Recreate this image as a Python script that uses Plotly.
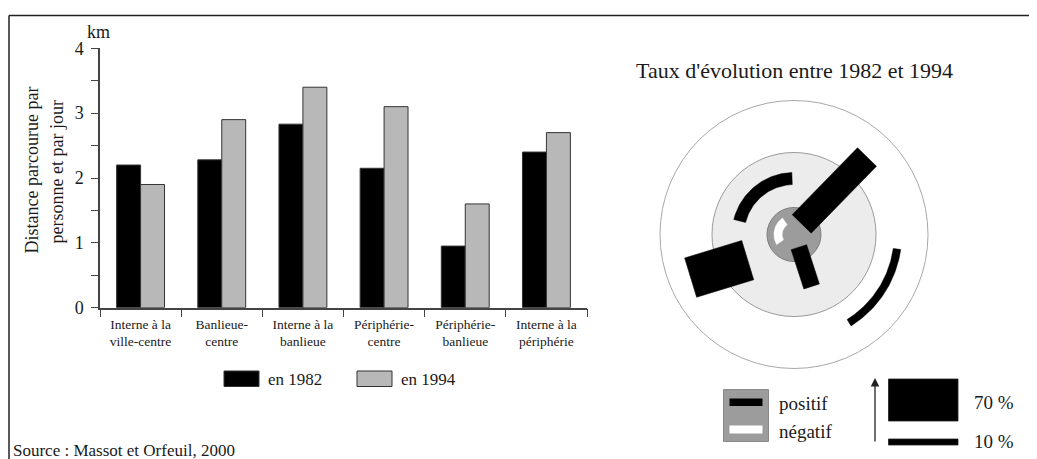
import numpy as np
import plotly.graph_objects as go

# ---------------- data ----------------
categories = ["Interne à la<br>ville-centre", "Banlieue-<br>centre", "Interne à la<br>banlieue",
              "Périphérie-<br>centre", "Périphérie-<br>banlieue", "Interne à la<br>périphérie"]
dist_1982 = [2.2, 2.28, 2.83, 2.15, 0.95, 2.4]
dist_1994 = [1.9, 2.9, 3.4, 3.1, 1.6, 2.7]
series_names = ["en 1982", "en 1994"]
y_ticks = [0, 1, 2, 3, 4]
scale_refs = [70, 10]          # % shown in the width legend
scale_labels = ["70 %", "10 %"]
sign_labels = ["positif", "négatif"]
diagram_title = "Taux d'évolution entre 1982 et 1994"
source_text = "Source : Massot et Orfeuil, 2000"

# evolution rates (%) derived from the data
rates = [(b / a - 1) * 100 for a, b in zip(dist_1982, dist_1994)]

# ---------------- layout constants ----------------
VW, VH = 1037, 459          # browser window
OFF = 8                     # page body margin
W, H = VW - OFF, VH - OFF   # figure size
FONT = "Liberation Serif, Times New Roman, serif"
TXT = "#1a1a1a"
AX = "#444444"

# positions below are given in window pixels; convert to figure paper fractions
def px(x):
    return (x - OFF) / W

def py(y):
    return 1 - (y - OFF) / H

# diagram geometry (pixels, y up, origin at centre of the rings)
CX, CY = 794, 234.5
R_OUT, R_BAN, R_CTR = 134, 82, 27
PX_PER_PCT = 0.6
# per flow: ("arc", radius, theta1, theta2) or ("bar", start_r, start_theta, direction, length)
flow_geom = [
    ("arc", 16, 125, 210),
    ("bar", 13.6, -69, -72, 41.3),
    ("arc", 56, 92, 166),
    ("bar", 13.1, 54, 45.7, 93.5),
    ("bar", 52.9, 209, 197, 59.7),
    ("arc", 104, -58, -8),
]

fig = go.Figure()

fig.add_bar(x=categories, y=dist_1982, name=series_names[0], showlegend=False,
            marker=dict(color="#000000", line=dict(color="#333333", width=1)),
            xaxis="x", yaxis="y")
fig.add_bar(x=categories, y=dist_1994, name=series_names[1], showlegend=False,
            marker=dict(color="#b8b8b8", line=dict(color="#333333", width=1)),
            xaxis="x", yaxis="y")

# ---- diagram marks built from the rates ----
for rate, g in zip(rates, flow_geom):
    w = abs(rate) * PX_PER_PCT
    color = "#000000" if rate >= 0 else "#ffffff"
    if g[0] == "bar":
        _, r0, t0, d, L = g
        sx, sy = r0 * np.cos(np.radians(t0)), r0 * np.sin(np.radians(t0))
        ux, uy = np.cos(np.radians(d)), np.sin(np.radians(d))
        nx, ny = -uy, ux
        xs = [sx + nx * w / 2, sx + ux * L + nx * w / 2, sx + ux * L - nx * w / 2, sx - nx * w / 2]
        ys = [sy + ny * w / 2, sy + uy * L + ny * w / 2, sy + uy * L - ny * w / 2, sy - ny * w / 2]
    else:
        _, r, t1, t2 = g
        th = np.radians(np.linspace(t1, t2, 60))
        ro, ri = r + w / 2, r - w / 2
        xs = list(ro * np.cos(th)) + list(ri * np.cos(th[::-1]))
        ys = list(ro * np.sin(th)) + list(ri * np.sin(th[::-1]))
    fig.add_trace(go.Scatter(x=xs + [xs[0]], y=ys + [ys[0]], mode="lines", fill="toself",
                             fillcolor=color, line=dict(color=color, width=0.5),
                             hoverinfo="skip", showlegend=False, xaxis="x2", yaxis="y2"))

shapes = []
# frame
shapes.append(dict(type="line", xref="paper", yref="paper", x0=px(9), x1=px(1034), y0=py(15.5), y1=py(15.5),
                   line=dict(color="#222222", width=1.5)))
shapes.append(dict(type="line", xref="paper", yref="paper", x0=px(9), x1=px(9), y0=py(15.5), y1=py(460),
                   line=dict(color="#222222", width=1.5)))
# bar legend keys
for x0, col in [(224, "#000000"), (357, "#b8b8b8")]:
    shapes.append(dict(type="rect", xref="paper", yref="paper", x0=px(x0), x1=px(x0 + 35),
                       y0=py(371), y1=py(386.5), fillcolor=col, line=dict(color="#333333", width=1)))
# rings
for r, fill, lc in [(R_OUT, "#ffffff", "#a8a8a8"), (R_BAN, "#ececec", "#9a9a9a"), (R_CTR, "#9c9c9c", "#7c7c7c")]:
    shapes.append(dict(type="circle", xref="x2", yref="y2", x0=-r, x1=r, y0=-r, y1=r,
                       fillcolor=fill, line=dict(color=lc, width=1), layer="below"))

# sign legend (gray square with black / white bars)
def lx(x):
    return x - CX

def ly(y):
    return CY - y

shapes.append(dict(type="rect", xref="x2", yref="y2", x0=lx(723.5), x1=lx(768.5), y0=ly(441.5), y1=ly(389.5),
                   fillcolor="#9c9c9c", line=dict(color="#8a8a8a", width=1)))
shapes.append(dict(type="rect", xref="x2", yref="y2", x0=lx(729.5), x1=lx(762.5), y0=ly(406), y1=ly(398.5),
                   fillcolor="#000000", line=dict(width=0)))
shapes.append(dict(type="rect", xref="x2", yref="y2", x0=lx(729.5), x1=lx(762.5), y0=ly(433.5), y1=ly(425.5),
                   fillcolor="#ffffff", line=dict(width=0)))
# width legend (70 % / 10 %)
for pct, ymid in zip(scale_refs, [400, 442]):
    h = pct * PX_PER_PCT
    shapes.append(dict(type="rect", xref="x2", yref="y2", x0=lx(888.5), x1=lx(958), y0=ly(ymid) - h / 2,
                       y1=ly(ymid) + h / 2, fillcolor="#000000", line=dict(color="#222222", width=0.8)))

annotations = []
def ann(text, x, y, size, xanchor="center", **kw):
    annotations.append(dict(text=text, x=px(x), y=py(y), xref="paper", yref="paper", showarrow=False,
                            xanchor=xanchor, yanchor="middle", font=dict(family=FONT, size=size, color=TXT), **kw))

ann("km", 98.5, 32, 18)
ann("Distance parcourue par", 31.5, 170, 18, textangle=-90)
ann("personne et par jour", 56.5, 172, 18, textangle=-90)
ann(diagram_title, 794, 71, 22)
ann(source_text, 11, 450.5, 17, xanchor="left")
ann(series_names[0], 266, 379, 17, xanchor="left")
ann(series_names[1], 399, 379, 17, xanchor="left")
ann(sign_labels[0], 777, 403, 19, xanchor="left")
ann(sign_labels[1], 777, 431, 19, xanchor="left")
ann(scale_labels[0], 972, 402, 19, xanchor="left")
ann(scale_labels[1], 972, 441, 19, xanchor="left")
# arrow
annotations.append(dict(text="", x=lx(875), y=ly(378), ax=lx(875), ay=ly(443), xref="x2", yref="y2",
                        axref="x2", ayref="y2", showarrow=True, arrowhead=2, arrowsize=1.3,
                        arrowwidth=1.3, arrowcolor="#222222"))

fig.update_layout(
    template="none",
    width=W, height=H, autosize=False,
    margin=dict(l=0, r=0, t=0, b=0, pad=0, autoexpand=False),
    paper_bgcolor="white", plot_bgcolor="rgba(0,0,0,0)",
    barmode="group", bargap=0.41, bargroupgap=0,
    font=dict(family=FONT, color=TXT),
    showlegend=False,
    xaxis=dict(domain=[px(100), px(587)], type="category", range=[-0.5, 5.5], anchor="y", automargin=False,
               showline=True, linecolor=AX, linewidth=1.5, ticks="outside", tickson="boundaries",
               ticklen=8, tickcolor=AX, tickwidth=1.2, tickfont=dict(size=13.5, family=FONT, color=TXT),
               ticklabelstandoff=3, showgrid=False, zeroline=False, fixedrange=True),
    yaxis=dict(domain=[py(307.7), py(48.3)], range=[0, 4], anchor="x", tickvals=y_ticks, automargin=False,
               showline=True, linecolor=AX, linewidth=1.5, ticks="outside", ticklen=7, tickcolor=AX,
               tickwidth=1.2, minor=dict(dtick=0.5, ticks="outside", ticklen=7, tickcolor=AX, tickwidth=1.2),
               tickfont=dict(size=18, family=FONT, color=TXT), ticklabelstandoff=4,
               showgrid=False, zeroline=False, fixedrange=True),
    xaxis2=dict(domain=[px(600), 1], range=[600 - CX, VW - CX], anchor="y2", visible=False, fixedrange=True,
                automargin=False),
    yaxis2=dict(domain=[0, 1], range=[-(VH - CY), CY - OFF], anchor="x2", visible=False, fixedrange=True,
                automargin=False),
    shapes=shapes,
    annotations=annotations,
)

fig.write_html("out.html")
